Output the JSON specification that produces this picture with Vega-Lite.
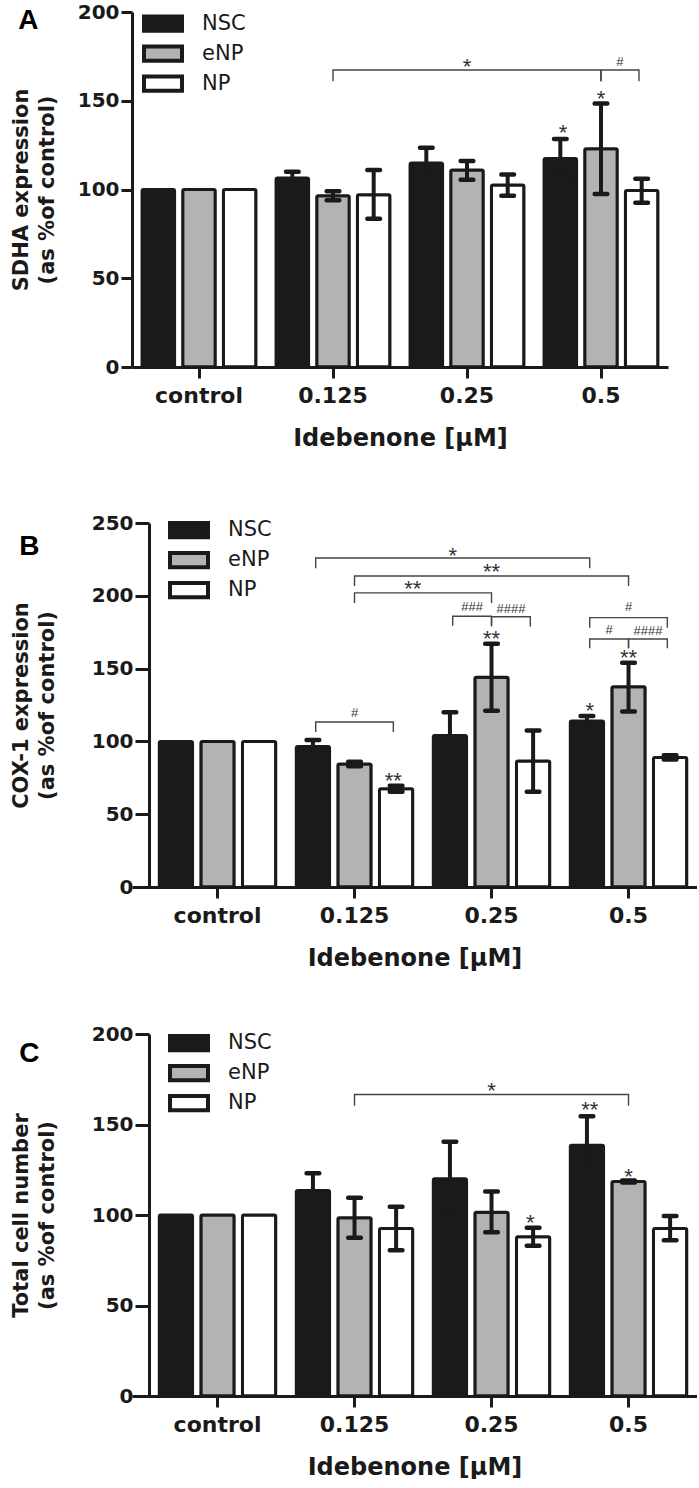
{
  "$schema": "https://vega.github.io/schema/vega-lite/v6.json",
  "padding": {"left": 10, "top": 2, "right": 0, "bottom": 0},
  "background": "white",
  "columns": 1,
  "spacing": 54,
  "datasets": {
    "barsA": [
      {"dose": "control", "cell": "NSC", "value": 100},
      {"dose": "control", "cell": "eNP", "value": 100},
      {"dose": "control", "cell": "NP", "value": 100},
      {"dose": "0.125", "cell": "NSC", "value": 106.5, "lo": 103, "hi": 110},
      {"dose": "0.125", "cell": "eNP", "value": 96.5, "lo": 94, "hi": 99},
      {"dose": "0.125", "cell": "NP", "value": 97, "lo": 83.5, "hi": 111},
      {"dose": "0.25", "cell": "NSC", "value": 115, "lo": 106.5, "hi": 123.5},
      {"dose": "0.25", "cell": "eNP", "value": 111, "lo": 105.5, "hi": 116},
      {"dose": "0.25", "cell": "NP", "value": 102.5, "lo": 96.5, "hi": 108.5},
      {"dose": "0.5", "cell": "NSC", "value": 117.5, "lo": 106.5, "hi": 128.5},
      {"dose": "0.5", "cell": "eNP", "value": 123, "lo": 97.5, "hi": 148.5},
      {"dose": "0.5", "cell": "NP", "value": 99.5, "lo": 92.5, "hi": 106}
    ],
    "barsB": [
      {"dose": "control", "cell": "NSC", "value": 100},
      {"dose": "control", "cell": "eNP", "value": 100},
      {"dose": "control", "cell": "NP", "value": 100},
      {"dose": "0.125", "cell": "NSC", "value": 96.5, "lo": 92, "hi": 101},
      {"dose": "0.125", "cell": "eNP", "value": 84.5, "lo": 83, "hi": 86},
      {"dose": "0.125", "cell": "NP", "value": 67.5, "lo": 65.5, "hi": 69.5},
      {"dose": "0.25", "cell": "NSC", "value": 104, "lo": 88, "hi": 120},
      {"dose": "0.25", "cell": "eNP", "value": 144, "lo": 121, "hi": 167},
      {"dose": "0.25", "cell": "NP", "value": 86.5, "lo": 65.5, "hi": 107.5},
      {"dose": "0.5", "cell": "NSC", "value": 114, "lo": 110.5, "hi": 117.5},
      {"dose": "0.5", "cell": "eNP", "value": 137.5, "lo": 120.5, "hi": 154},
      {"dose": "0.5", "cell": "NP", "value": 89, "lo": 87.5, "hi": 90.5}
    ],
    "barsC": [
      {"dose": "control", "cell": "NSC", "value": 100},
      {"dose": "control", "cell": "eNP", "value": 100},
      {"dose": "control", "cell": "NP", "value": 100},
      {"dose": "0.125", "cell": "NSC", "value": 113.5, "lo": 104, "hi": 123},
      {"dose": "0.125", "cell": "eNP", "value": 98.5, "lo": 87.5, "hi": 109.5},
      {"dose": "0.125", "cell": "NP", "value": 92.5, "lo": 80.5, "hi": 104.5},
      {"dose": "0.25", "cell": "NSC", "value": 120, "lo": 99.5, "hi": 140.5},
      {"dose": "0.25", "cell": "eNP", "value": 101.5, "lo": 90.5, "hi": 113},
      {"dose": "0.25", "cell": "NP", "value": 88, "lo": 83, "hi": 93},
      {"dose": "0.5", "cell": "NSC", "value": 138.5, "lo": 122.5, "hi": 154.5},
      {"dose": "0.5", "cell": "eNP", "value": 118.5, "lo": 118, "hi": 119},
      {"dose": "0.5", "cell": "NP", "value": 92.5, "lo": 86, "hi": 99.5}
    ],
    "brkA": [
      {"bid": 1, "ord": 0, "dose": "0.125", "slot": "eNP", "y": 161},
      {"bid": 1, "ord": 1, "dose": "0.125", "slot": "eNP", "y": 167.3},
      {"bid": 1, "ord": 2, "dose": "0.5", "slot": "eNP", "y": 167.3},
      {"bid": 1, "ord": 3, "dose": "0.5", "slot": "eNP", "y": 161},
      {"bid": 2, "ord": 0, "dose": "0.5", "slot": "eNP", "y": 161},
      {"bid": 2, "ord": 1, "dose": "0.5", "slot": "eNP", "y": 167.3},
      {"bid": 2, "ord": 2, "dose": "0.5", "slot": "NP", "y": 167.3},
      {"bid": 2, "ord": 3, "dose": "0.5", "slot": "NP", "y": 161}
    ],
    "lblA": [
      {"dose": "0.25", "slot": "eNP", "y": 172, "label": "*"},
      {"dose": "0.5", "slot": "eNP|NP", "y": 172, "label": "#"},
      {"dose": "0.5", "slot": "NSC", "y": 134.5, "label": "*"},
      {"dose": "0.5", "slot": "eNP", "y": 154, "label": "*"}
    ],
    "brkB": [
      {"bid": 1, "ord": 0, "dose": "0.125", "slot": "NSC", "y": 219},
      {"bid": 1, "ord": 1, "dose": "0.125", "slot": "NSC", "y": 226},
      {"bid": 1, "ord": 2, "dose": "0.5", "slot": "NSC", "y": 226},
      {"bid": 1, "ord": 3, "dose": "0.5", "slot": "NSC", "y": 219},
      {"bid": 2, "ord": 0, "dose": "0.125", "slot": "eNP", "y": 206.7},
      {"bid": 2, "ord": 1, "dose": "0.125", "slot": "eNP", "y": 213.6},
      {"bid": 2, "ord": 2, "dose": "0.5", "slot": "eNP", "y": 213.6},
      {"bid": 2, "ord": 3, "dose": "0.5", "slot": "eNP", "y": 206.7},
      {"bid": 3, "ord": 0, "dose": "0.125", "slot": "eNP", "y": 195},
      {"bid": 3, "ord": 1, "dose": "0.125", "slot": "eNP", "y": 202},
      {"bid": 3, "ord": 2, "dose": "0.25", "slot": "eNP", "y": 202},
      {"bid": 3, "ord": 3, "dose": "0.25", "slot": "eNP", "y": 195},
      {"bid": 4, "ord": 0, "dose": "0.25", "slot": "NSC", "y": 179.4},
      {"bid": 4, "ord": 1, "dose": "0.25", "slot": "NSC", "y": 186},
      {"bid": 4, "ord": 2, "dose": "0.25", "slot": "eNP", "y": 186},
      {"bid": 4, "ord": 3, "dose": "0.25", "slot": "eNP", "y": 179.4},
      {"bid": 5, "ord": 0, "dose": "0.25", "slot": "eNP", "y": 179},
      {"bid": 5, "ord": 1, "dose": "0.25", "slot": "eNP", "y": 185.6},
      {"bid": 5, "ord": 2, "dose": "0.25", "slot": "NP", "y": 185.6},
      {"bid": 5, "ord": 3, "dose": "0.25", "slot": "NP", "y": 179},
      {"bid": 6, "ord": 0, "dose": "0.5", "slot": "NSC", "y": 178},
      {"bid": 6, "ord": 1, "dose": "0.5", "slot": "NSC", "y": 185},
      {"bid": 6, "ord": 2, "dose": "0.5", "slot": "NP", "y": 185},
      {"bid": 6, "ord": 3, "dose": "0.5", "slot": "NP", "y": 178},
      {"bid": 7, "ord": 0, "dose": "0.5", "slot": "NSC", "y": 164},
      {"bid": 7, "ord": 1, "dose": "0.5", "slot": "NSC", "y": 170.3},
      {"bid": 7, "ord": 2, "dose": "0.5", "slot": "eNP", "y": 170.3},
      {"bid": 7, "ord": 3, "dose": "0.5", "slot": "eNP", "y": 164},
      {"bid": 8, "ord": 0, "dose": "0.5", "slot": "eNP", "y": 164},
      {"bid": 8, "ord": 1, "dose": "0.5", "slot": "eNP", "y": 170.3},
      {"bid": 8, "ord": 2, "dose": "0.5", "slot": "NP", "y": 170.3},
      {"bid": 8, "ord": 3, "dose": "0.5", "slot": "NP", "y": 164},
      {"bid": 9, "ord": 0, "dose": "0.125", "slot": "NSC", "y": 106.5},
      {"bid": 9, "ord": 1, "dose": "0.125", "slot": "NSC", "y": 113.3},
      {"bid": 9, "ord": 2, "dose": "0.125", "slot": "NP", "y": 113.3},
      {"bid": 9, "ord": 3, "dose": "0.125", "slot": "NP", "y": 106.5}
    ],
    "lblB": [
      {"dose": "0.25", "slot": "NSC", "y": 231, "label": "*"},
      {"dose": "0.25", "slot": "eNP", "y": 219.5, "label": "**"},
      {"dose": "0.125", "slot": "post", "y": 208, "label": "**"},
      {"dose": "0.25", "slot": "NSC|eNP", "y": 192.5, "label": "###"},
      {"dose": "0.25", "slot": "eNP|NP", "y": 191, "label": "####"},
      {"dose": "0.5", "slot": "eNP", "y": 192.5, "label": "#"},
      {"dose": "0.5", "slot": "NSC|eNP", "y": 176.5, "label": "#"},
      {"dose": "0.5", "slot": "eNP|NP", "y": 176, "label": "####"},
      {"dose": "0.125", "slot": "eNP", "y": 119.5, "label": "#"},
      {"dose": "0.125", "slot": "NP", "y": 76, "label": "**"},
      {"dose": "0.25", "slot": "eNP", "y": 174, "label": "**"},
      {"dose": "0.5", "slot": "NSC", "y": 124, "label": "*"},
      {"dose": "0.5", "slot": "eNP", "y": 160.5, "label": "**"}
    ],
    "brkC": [
      {"bid": 1, "ord": 0, "dose": "0.125", "slot": "eNP", "y": 160.4},
      {"bid": 1, "ord": 1, "dose": "0.125", "slot": "eNP", "y": 166.6},
      {"bid": 1, "ord": 2, "dose": "0.5", "slot": "eNP", "y": 166.6},
      {"bid": 1, "ord": 3, "dose": "0.5", "slot": "eNP", "y": 160.4}
    ],
    "lblC": [
      {"dose": "0.25", "slot": "eNP", "y": 171, "label": "*"},
      {"dose": "0.25", "slot": "NP", "y": 98.3, "label": "*"},
      {"dose": "0.5", "slot": "NSC", "y": 160.5, "label": "**"},
      {"dose": "0.5", "slot": "eNP", "y": 124, "label": "*"}
    ]
  },
  "concat": [
    {
      "width": 536, "height": 355,
      "title": {"text": "A", "anchor": "start", "frame": "bounds", "orient": "top", "offset": 0, "dx": 8, "dy": 33},
      "resolve": {"scale": {"xOffset": "independent"}},
      "layer": [
        {"data": {"name": "barsA"},
         "mark": {"type": "bar", "stroke": "#1a1a1a", "strokeWidth": 3, "cornerRadius": 1.5},
         "encoding": {
           "x": {"field": "dose", "type": "nominal", "scale": {"domain": ["control", "0.125", "0.25", "0.5"], "paddingInner": 0.15, "paddingOuter": 0.075}, "axis": {"titleLineHeight": 9}, "title": ["Idebenone [μM]", " "]},
           "xOffset": {"field": "cell", "type": "nominal", "scale": {"domain": ["NSC", "eNP", "NP"], "paddingInner": 0.2, "paddingOuter": 0}},
           "y": {"field": "value", "type": "quantitative", "scale": {"domain": [0, 200], "nice": false}, "axis": {"values": [0, 50, 100, 150, 200], "titlePadding": 20}, "title": ["SDHA expression", "(as %of control)"]},
           "fill": {"field": "cell", "type": "nominal", "scale": {"domain": ["NSC", "eNP", "NP"], "range": ["#1a1a1a", "#b3b3b3", "#ffffff"]}, "legend": {"orient": "none", "legendX": 17, "legendY": -2.5, "rowPadding": -7, "title": null}}
         }},
        {"data": {"name": "barsA"}, "transform": [{"filter": "isValid(datum.hi)"}],
         "mark": {"type": "rule", "color": "#1a1a1a", "strokeWidth": 4},
         "encoding": {
           "x": {"field": "dose", "type": "nominal", "scale": {"domain": ["control", "0.125", "0.25", "0.5"], "paddingInner": 0.15, "paddingOuter": 0.075}, "title": ["Idebenone [μM]", " "]},
           "xOffset": {"field": "cell", "type": "nominal", "scale": {"domain": ["NSC", "eNP", "NP"], "paddingInner": 0.2, "paddingOuter": 0}},
           "y": {"field": "lo", "type": "quantitative", "scale": {"domain": [0, 200], "nice": false}, "title": ["SDHA expression", "(as %of control)"]},
           "y2": {"field": "hi"}
         }},
        {"data": {"name": "barsA"}, "transform": [{"filter": "isValid(datum.hi)"}],
         "mark": {"type": "tick", "color": "#1a1a1a", "opacity": 1, "thickness": 4.5, "size": 17, "cornerRadius": 2},
         "encoding": {
           "x": {"field": "dose", "type": "nominal", "scale": {"domain": ["control", "0.125", "0.25", "0.5"], "paddingInner": 0.15, "paddingOuter": 0.075}, "title": ["Idebenone [μM]", " "]},
           "xOffset": {"field": "cell", "type": "nominal", "scale": {"domain": ["NSC", "eNP", "NP"], "paddingInner": 0.2, "paddingOuter": 0}},
           "y": {"field": "hi", "type": "quantitative", "scale": {"domain": [0, 200], "nice": false}, "title": ["SDHA expression", "(as %of control)"]}
         }},
        {"data": {"name": "barsA"}, "transform": [{"filter": "isValid(datum.lo)"}],
         "mark": {"type": "tick", "color": "#1a1a1a", "opacity": 1, "thickness": 4.5, "size": 17, "cornerRadius": 2},
         "encoding": {
           "x": {"field": "dose", "type": "nominal", "scale": {"domain": ["control", "0.125", "0.25", "0.5"], "paddingInner": 0.15, "paddingOuter": 0.075}, "title": ["Idebenone [μM]", " "]},
           "xOffset": {"field": "cell", "type": "nominal", "scale": {"domain": ["NSC", "eNP", "NP"], "paddingInner": 0.2, "paddingOuter": 0}},
           "y": {"field": "lo", "type": "quantitative", "scale": {"domain": [0, 200], "nice": false}, "title": ["SDHA expression", "(as %of control)"]}
         }},
        {"data": {"name": "brkA"},
         "mark": {"type": "line", "color": "#444444", "strokeWidth": 1.4},
         "encoding": {
           "x": {"field": "dose", "type": "nominal", "scale": {"domain": ["control", "0.125", "0.25", "0.5"], "paddingInner": 0.15, "paddingOuter": 0.075}, "title": ["Idebenone [μM]", " "]},
           "xOffset": {"field": "slot", "type": "nominal", "scale": {"type": "point", "domain": ["pre", "NSC", "NSC|eNP", "eNP", "eNP|NP", "NP", "post"], "padding": -0.2}},
           "y": {"field": "y", "type": "quantitative", "scale": {"domain": [0, 200], "nice": false}, "title": ["SDHA expression", "(as %of control)"]},
           "detail": {"field": "bid", "type": "nominal"},
           "order": {"field": "ord", "type": "quantitative"}
         }},
        {"data": {"name": "lblA"}, "transform": [{"filter": "indexof(datum.label, '#') < 0"}],
         "mark": {"type": "text", "font": "Liberation Sans", "fontSize": 22, "color": "#333333", "baseline": "middle", "dy": 5},
         "encoding": {
           "x": {"field": "dose", "type": "nominal", "scale": {"domain": ["control", "0.125", "0.25", "0.5"], "paddingInner": 0.15, "paddingOuter": 0.075}, "title": ["Idebenone [μM]", " "]},
           "xOffset": {"field": "slot", "type": "nominal", "scale": {"type": "point", "domain": ["pre", "NSC", "NSC|eNP", "eNP", "eNP|NP", "NP", "post"], "padding": -0.2}},
           "y": {"field": "y", "type": "quantitative", "scale": {"domain": [0, 200], "nice": false}, "title": ["SDHA expression", "(as %of control)"]},
           "text": {"field": "label"}
         }},
        {"data": {"name": "lblA"}, "transform": [{"filter": "indexof(datum.label, '#') >= 0"}],
         "mark": {"type": "text", "font": "Liberation Sans", "fontSize": 13, "color": "#333333", "baseline": "middle"},
         "encoding": {
           "x": {"field": "dose", "type": "nominal", "scale": {"domain": ["control", "0.125", "0.25", "0.5"], "paddingInner": 0.15, "paddingOuter": 0.075}, "title": ["Idebenone [μM]", " "]},
           "xOffset": {"field": "slot", "type": "nominal", "scale": {"type": "point", "domain": ["pre", "NSC", "NSC|eNP", "eNP", "eNP|NP", "NP", "post"], "padding": -0.2}},
           "y": {"field": "y", "type": "quantitative", "scale": {"domain": [0, 200], "nice": false}, "title": ["SDHA expression", "(as %of control)"]},
           "text": {"field": "label"}
         }}
      ]
    },
    {
      "width": 565, "height": 364,
      "title": {"text": "B", "anchor": "start", "frame": "bounds", "orient": "top", "offset": 0, "dx": 9, "dy": 48},
      "resolve": {"scale": {"xOffset": "independent"}},
      "layer": [
        {"data": {"name": "barsB"},
         "mark": {"type": "bar", "stroke": "#1a1a1a", "strokeWidth": 3, "cornerRadius": 1.5},
         "encoding": {
           "x": {"field": "dose", "type": "nominal", "scale": {"domain": ["control", "0.125", "0.25", "0.5"], "paddingInner": 0.15, "paddingOuter": 0.137, "align": 0.727}, "title": "Idebenone [μM]"},
           "xOffset": {"field": "cell", "type": "nominal", "scale": {"domain": ["NSC", "eNP", "NP"], "paddingInner": 0.2, "paddingOuter": 0}},
           "y": {"field": "value", "type": "quantitative", "scale": {"domain": [0, 250], "nice": false}, "axis": {"values": [0, 50, 100, 150, 200, 250], "titlePadding": 34, "tickSize": 14, "offset": -17}, "title": ["COX-1 expression", "(as %of control)"]},
           "fill": {"field": "cell", "type": "nominal", "scale": {"domain": ["NSC", "eNP", "NP"], "range": ["#1a1a1a", "#b3b3b3", "#ffffff"]}, "legend": {"orient": "none", "legendX": 43, "legendY": -7, "rowPadding": -12, "title": null}}
         }},
        {"data": {"name": "barsB"}, "transform": [{"filter": "isValid(datum.hi)"}],
         "mark": {"type": "rule", "color": "#1a1a1a", "strokeWidth": 4},
         "encoding": {
           "x": {"field": "dose", "type": "nominal", "scale": {"domain": ["control", "0.125", "0.25", "0.5"], "paddingInner": 0.15, "paddingOuter": 0.137, "align": 0.727}, "title": "Idebenone [μM]"},
           "xOffset": {"field": "cell", "type": "nominal", "scale": {"domain": ["NSC", "eNP", "NP"], "paddingInner": 0.2, "paddingOuter": 0}},
           "y": {"field": "lo", "type": "quantitative", "scale": {"domain": [0, 250], "nice": false}, "title": ["COX-1 expression", "(as %of control)"]},
           "y2": {"field": "hi"}
         }},
        {"data": {"name": "barsB"}, "transform": [{"filter": "isValid(datum.hi)"}],
         "mark": {"type": "tick", "color": "#1a1a1a", "opacity": 1, "thickness": 4.5, "size": 17, "cornerRadius": 2},
         "encoding": {
           "x": {"field": "dose", "type": "nominal", "scale": {"domain": ["control", "0.125", "0.25", "0.5"], "paddingInner": 0.15, "paddingOuter": 0.137, "align": 0.727}, "title": "Idebenone [μM]"},
           "xOffset": {"field": "cell", "type": "nominal", "scale": {"domain": ["NSC", "eNP", "NP"], "paddingInner": 0.2, "paddingOuter": 0}},
           "y": {"field": "hi", "type": "quantitative", "scale": {"domain": [0, 250], "nice": false}, "title": ["COX-1 expression", "(as %of control)"]}
         }},
        {"data": {"name": "barsB"}, "transform": [{"filter": "isValid(datum.lo)"}],
         "mark": {"type": "tick", "color": "#1a1a1a", "opacity": 1, "thickness": 4.5, "size": 17, "cornerRadius": 2},
         "encoding": {
           "x": {"field": "dose", "type": "nominal", "scale": {"domain": ["control", "0.125", "0.25", "0.5"], "paddingInner": 0.15, "paddingOuter": 0.137, "align": 0.727}, "title": "Idebenone [μM]"},
           "xOffset": {"field": "cell", "type": "nominal", "scale": {"domain": ["NSC", "eNP", "NP"], "paddingInner": 0.2, "paddingOuter": 0}},
           "y": {"field": "lo", "type": "quantitative", "scale": {"domain": [0, 250], "nice": false}, "title": ["COX-1 expression", "(as %of control)"]}
         }},
        {"data": {"name": "brkB"},
         "mark": {"type": "line", "color": "#444444", "strokeWidth": 1.4},
         "encoding": {
           "x": {"field": "dose", "type": "nominal", "scale": {"domain": ["control", "0.125", "0.25", "0.5"], "paddingInner": 0.15, "paddingOuter": 0.137, "align": 0.727}, "title": "Idebenone [μM]"},
           "xOffset": {"field": "slot", "type": "nominal", "scale": {"type": "point", "domain": ["pre", "NSC", "NSC|eNP", "eNP", "eNP|NP", "NP", "post"], "padding": -0.2}},
           "y": {"field": "y", "type": "quantitative", "scale": {"domain": [0, 250], "nice": false}, "title": ["COX-1 expression", "(as %of control)"]},
           "detail": {"field": "bid", "type": "nominal"},
           "order": {"field": "ord", "type": "quantitative"}
         }},
        {"data": {"name": "lblB"}, "transform": [{"filter": "indexof(datum.label, '#') < 0"}],
         "mark": {"type": "text", "font": "Liberation Sans", "fontSize": 22, "color": "#333333", "baseline": "middle", "dy": 5},
         "encoding": {
           "x": {"field": "dose", "type": "nominal", "scale": {"domain": ["control", "0.125", "0.25", "0.5"], "paddingInner": 0.15, "paddingOuter": 0.137, "align": 0.727}, "title": "Idebenone [μM]"},
           "xOffset": {"field": "slot", "type": "nominal", "scale": {"type": "point", "domain": ["pre", "NSC", "NSC|eNP", "eNP", "eNP|NP", "NP", "post"], "padding": -0.2}},
           "y": {"field": "y", "type": "quantitative", "scale": {"domain": [0, 250], "nice": false}, "title": ["COX-1 expression", "(as %of control)"]},
           "text": {"field": "label"}
         }},
        {"data": {"name": "lblB"}, "transform": [{"filter": "indexof(datum.label, '#') >= 0"}],
         "mark": {"type": "text", "font": "Liberation Sans", "fontSize": 13, "color": "#333333", "baseline": "middle"},
         "encoding": {
           "x": {"field": "dose", "type": "nominal", "scale": {"domain": ["control", "0.125", "0.25", "0.5"], "paddingInner": 0.15, "paddingOuter": 0.137, "align": 0.727}, "title": "Idebenone [μM]"},
           "xOffset": {"field": "slot", "type": "nominal", "scale": {"type": "point", "domain": ["pre", "NSC", "NSC|eNP", "eNP", "eNP|NP", "NP", "post"], "padding": -0.2}},
           "y": {"field": "y", "type": "quantitative", "scale": {"domain": [0, 250], "nice": false}, "title": ["COX-1 expression", "(as %of control)"]},
           "text": {"field": "label"}
         }}
      ]
    },
    {
      "width": 565, "height": 362,
      "title": {"text": "C", "anchor": "start", "frame": "bounds", "orient": "top", "offset": 0, "dx": 9, "dy": 44},
      "resolve": {"scale": {"xOffset": "independent"}},
      "layer": [
        {"data": {"name": "barsC"},
         "mark": {"type": "bar", "stroke": "#1a1a1a", "strokeWidth": 3, "cornerRadius": 1.5},
         "encoding": {
           "x": {"field": "dose", "type": "nominal", "scale": {"domain": ["control", "0.125", "0.25", "0.5"], "paddingInner": 0.15, "paddingOuter": 0.137, "align": 0.727}, "title": "Idebenone [μM]"},
           "xOffset": {"field": "cell", "type": "nominal", "scale": {"domain": ["NSC", "eNP", "NP"], "paddingInner": 0.2, "paddingOuter": 0}},
           "y": {"field": "value", "type": "quantitative", "scale": {"domain": [0, 200], "nice": false}, "axis": {"values": [0, 50, 100, 150, 200], "titlePadding": 34, "tickSize": 14, "offset": -17}, "title": ["Total cell number", "(as %of control)"]},
           "fill": {"field": "cell", "type": "nominal", "scale": {"domain": ["NSC", "eNP", "NP"], "range": ["#1a1a1a", "#b3b3b3", "#ffffff"]}, "legend": {"orient": "none", "legendX": 43, "legendY": -5, "rowPadding": -11, "title": null}}
         }},
        {"data": {"name": "barsC"}, "transform": [{"filter": "isValid(datum.hi)"}],
         "mark": {"type": "rule", "color": "#1a1a1a", "strokeWidth": 4},
         "encoding": {
           "x": {"field": "dose", "type": "nominal", "scale": {"domain": ["control", "0.125", "0.25", "0.5"], "paddingInner": 0.15, "paddingOuter": 0.137, "align": 0.727}, "title": "Idebenone [μM]"},
           "xOffset": {"field": "cell", "type": "nominal", "scale": {"domain": ["NSC", "eNP", "NP"], "paddingInner": 0.2, "paddingOuter": 0}},
           "y": {"field": "lo", "type": "quantitative", "scale": {"domain": [0, 200], "nice": false}, "title": ["Total cell number", "(as %of control)"]},
           "y2": {"field": "hi"}
         }},
        {"data": {"name": "barsC"}, "transform": [{"filter": "isValid(datum.hi)"}],
         "mark": {"type": "tick", "color": "#1a1a1a", "opacity": 1, "thickness": 4.5, "size": 17, "cornerRadius": 2},
         "encoding": {
           "x": {"field": "dose", "type": "nominal", "scale": {"domain": ["control", "0.125", "0.25", "0.5"], "paddingInner": 0.15, "paddingOuter": 0.137, "align": 0.727}, "title": "Idebenone [μM]"},
           "xOffset": {"field": "cell", "type": "nominal", "scale": {"domain": ["NSC", "eNP", "NP"], "paddingInner": 0.2, "paddingOuter": 0}},
           "y": {"field": "hi", "type": "quantitative", "scale": {"domain": [0, 200], "nice": false}, "title": ["Total cell number", "(as %of control)"]}
         }},
        {"data": {"name": "barsC"}, "transform": [{"filter": "isValid(datum.lo)"}],
         "mark": {"type": "tick", "color": "#1a1a1a", "opacity": 1, "thickness": 4.5, "size": 17, "cornerRadius": 2},
         "encoding": {
           "x": {"field": "dose", "type": "nominal", "scale": {"domain": ["control", "0.125", "0.25", "0.5"], "paddingInner": 0.15, "paddingOuter": 0.137, "align": 0.727}, "title": "Idebenone [μM]"},
           "xOffset": {"field": "cell", "type": "nominal", "scale": {"domain": ["NSC", "eNP", "NP"], "paddingInner": 0.2, "paddingOuter": 0}},
           "y": {"field": "lo", "type": "quantitative", "scale": {"domain": [0, 200], "nice": false}, "title": ["Total cell number", "(as %of control)"]}
         }},
        {"data": {"name": "brkC"},
         "mark": {"type": "line", "color": "#444444", "strokeWidth": 1.4},
         "encoding": {
           "x": {"field": "dose", "type": "nominal", "scale": {"domain": ["control", "0.125", "0.25", "0.5"], "paddingInner": 0.15, "paddingOuter": 0.137, "align": 0.727}, "title": "Idebenone [μM]"},
           "xOffset": {"field": "slot", "type": "nominal", "scale": {"type": "point", "domain": ["pre", "NSC", "NSC|eNP", "eNP", "eNP|NP", "NP", "post"], "padding": -0.2}},
           "y": {"field": "y", "type": "quantitative", "scale": {"domain": [0, 200], "nice": false}, "title": ["Total cell number", "(as %of control)"]},
           "detail": {"field": "bid", "type": "nominal"},
           "order": {"field": "ord", "type": "quantitative"}
         }},
        {"data": {"name": "lblC"}, "transform": [{"filter": "indexof(datum.label, '#') < 0"}],
         "mark": {"type": "text", "font": "Liberation Sans", "fontSize": 22, "color": "#333333", "baseline": "middle", "dy": 5},
         "encoding": {
           "x": {"field": "dose", "type": "nominal", "scale": {"domain": ["control", "0.125", "0.25", "0.5"], "paddingInner": 0.15, "paddingOuter": 0.137, "align": 0.727}, "title": "Idebenone [μM]"},
           "xOffset": {"field": "slot", "type": "nominal", "scale": {"type": "point", "domain": ["pre", "NSC", "NSC|eNP", "eNP", "eNP|NP", "NP", "post"], "padding": -0.2}},
           "y": {"field": "y", "type": "quantitative", "scale": {"domain": [0, 200], "nice": false}, "title": ["Total cell number", "(as %of control)"]},
           "text": {"field": "label"}
         }}
      ]
    }
  ],
  "resolve": {"scale": {"fill": "independent"}, "legend": {"fill": "independent"}},
  "config": {
    "view": {"stroke": null},
    "title": {"font": "Liberation Sans", "fontSize": 28, "fontWeight": "bold", "color": "#000000"},
    "axis": {"domainColor": "#1a1a1a", "domainWidth": 3, "tickColor": "#1a1a1a", "tickWidth": 3, "labelFont": "DejaVu Sans", "labelFontWeight": "bold", "labelColor": "#1a1a1a", "titleFont": "DejaVu Sans", "titleFontWeight": "bold", "titleColor": "#1a1a1a", "grid": false},
    "axisX": {"labelFontSize": 22, "labelAngle": 0, "labelPadding": 7, "titleFontSize": 24, "titlePadding": 20, "tickSize": 11},
    "axisY": {"labelFontSize": 20, "labelPadding": 2, "titleFontSize": 21, "titleLineHeight": 26, "tickSize": 11},
    "legend": {"symbolType": "M-1.6,-0.6H1.6V0.6H-1.6Z", "symbolSize": 564, "symbolStrokeColor": "#1a1a1a", "symbolStrokeWidth": 4, "labelFont": "DejaVu Sans", "labelFontSize": 21, "labelColor": "#1a1a1a", "labelOffset": 25, "padding": 0}
  }
}
